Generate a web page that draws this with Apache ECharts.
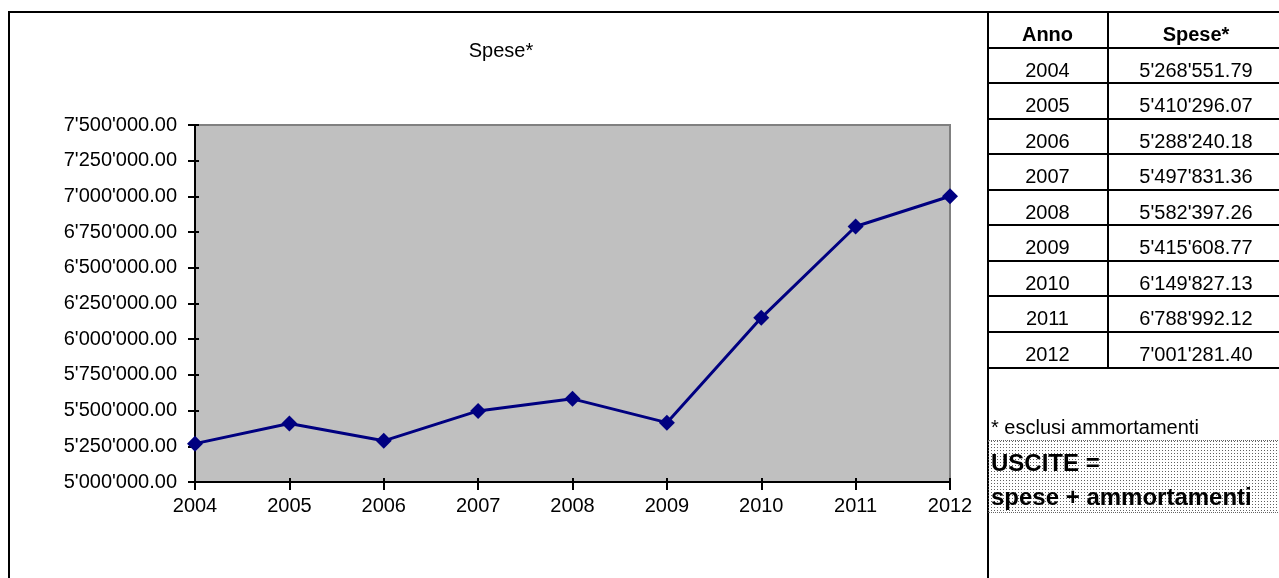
<!DOCTYPE html>
<html>
<head>
<meta charset="utf-8">
<script src="https://cdn.jsdelivr.net/npm/echarts@6/dist/echarts.min.js"></script>
<style>
  html, body { margin:0; padding:0; background:#fff; }
  body { width:1279px; height:578px; position:relative; overflow:hidden; font-family:"Liberation Sans", Arial, sans-serif; }
  #chart { position:absolute; left:0; top:0; width:1279px; height:578px; }
  .ln { position:absolute; background:#000; }
  .cell { position:absolute; text-align:center; font-size:20px; color:#000; line-height:35px; }
  .hdr { font-weight:bold; }
  #note { position:absolute; left:991px; top:415px; font-size:20px; line-height:24px; color:#000; }
  #box { position:absolute; left:988px; top:440px; width:300px; height:73px;
         background-image:url("data:image/svg+xml,%3Csvg xmlns='http://www.w3.org/2000/svg' width='3' height='3'%3E%3Crect width='1' height='1' fill='%23606060'/%3E%3C/svg%3E");
         border-top:1px dotted #666; border-bottom:1px dotted #666; box-sizing:border-box; }
  #box div { position:absolute; left:3px; font-weight:bold; font-size:24px; color:#000; white-space:nowrap; }
</style>
</head>
<body>
<div id="chart"></div>
<div id="overlay"></div>
<div id="note">* esclusi ammortamenti</div>
<div id="box"><div style="top:8px">USCITE =</div><div style="top:42px">spese + ammortamenti</div></div>
<script>
const years = ['2004','2005','2006','2007','2008','2009','2010','2011','2012'];
const spese = [5268551.79, 5410296.07, 5288240.18, 5497831.36, 5582397.26, 5415608.77, 6149827.13, 6788992.12, 7001281.40];
const chartTitle = 'Spese*';
const tableHeaders = ['Anno', 'Spese*'];

function fmt(v) {
  const parts = Number(v).toFixed(2).split('.');
  return parts[0].replace(/\B(?=(\d{3})+(?!\d))/g, "'") + '.' + parts[1];
}

// frame lines and table
const ov = document.getElementById('overlay');
function line(x, y, w, h) {
  const d = document.createElement('div');
  d.className = 'ln';
  d.style.left = x + 'px'; d.style.top = y + 'px';
  d.style.width = w + 'px'; d.style.height = h + 'px';
  ov.appendChild(d);
}
// chart frame
line(8, 11, 981, 2);
line(8, 11, 2, 567);
line(987, 11, 2, 567);
// table
const rowH = 35.55, tTop = 12, c1 = 988, c2 = 1107, c3 = 1285;
line(c1, 11, 300, 2);
line(c2, 11, 2, rowH * (years.length + 1) + 2);
for (let r = 1; r <= years.length + 1; r++) {
  line(c1, Math.round(tTop + r * rowH) - 1, 300, 2);
}
function cell(text, x0, x1, row, bold) {
  const d = document.createElement('div');
  d.className = 'cell' + (bold ? ' hdr' : '');
  d.style.left = x0 + 'px'; d.style.width = (x1 - x0) + 'px';
  d.style.top = (tTop + row * rowH + 5) + 'px';
  d.style.height = rowH + 'px';
  d.textContent = text;
  ov.appendChild(d);
}
cell(tableHeaders[0], c1, c2, 0, true);
cell(tableHeaders[1], c2, c3, 0, true);
years.forEach((y, i) => {
  cell(y, c1, c2, i + 1, false);
  cell(fmt(spese[i]), c2, c3, i + 1, false);
});

const chart = echarts.init(document.getElementById('chart'), null, { renderer: 'canvas' });
const font = '"Liberation Sans", Arial, sans-serif';
chart.setOption({
  animation: false,
  backgroundColor: 'transparent',
  graphic: [{
    type: 'text', x: 501, y: 51,
    style: { text: chartTitle, font: '20px ' + font, fill: '#000', textAlign: 'center', textVerticalAlign: 'middle' }
  }],
  grid: {
    left: 195, right: 329, top: 125, bottom: 96,
    show: true, backgroundColor: '#C0C0C0', borderColor: '#808080', borderWidth: 2
  },
  xAxis: [{
    type: 'category', data: years, boundaryGap: false,
    axisLine: { lineStyle: { color: '#000', width: 2 } },
    axisTick: { length: 8, lineStyle: { color: '#000', width: 2 } },
    axisLabel: { color: '#000', fontSize: 20, fontFamily: font, margin: 14 },
    splitLine: { show: false }
  }, {
    type: 'category', data: years, boundaryGap: false, position: 'bottom',
    axisLine: { show: false },
    axisTick: { inside: true, length: 4, lineStyle: { color: '#000', width: 2 } },
    axisLabel: { show: false }, splitLine: { show: false }
  }],
  yAxis: [{
    type: 'value', min: 5000000, max: 7500000, interval: 250000,
    axisLine: { show: true, lineStyle: { color: '#000', width: 2 } },
    axisTick: { show: true, length: 7, lineStyle: { color: '#000', width: 2 } },
    axisLabel: { color: '#000', fontSize: 20, fontFamily: font, margin: 18, formatter: fmt, padding: [4, 0, 0, 0] },
    splitLine: { show: false }
  }, {
    type: 'value', min: 5000000, max: 7500000, interval: 250000, position: 'left',
    axisLine: { show: false },
    axisTick: { show: true, inside: true, length: 4, lineStyle: { color: '#000', width: 2 } },
    axisLabel: { show: false }, splitLine: { show: false }
  }],
  series: [{
    type: 'line', data: spese, xAxisIndex: 0, yAxisIndex: 0,
    symbol: 'diamond', symbolSize: 16, showAllSymbol: true,
    lineStyle: { color: '#000080', width: 3 },
    itemStyle: { color: '#000080' }
  }]
});
</script>
</body>
</html>
